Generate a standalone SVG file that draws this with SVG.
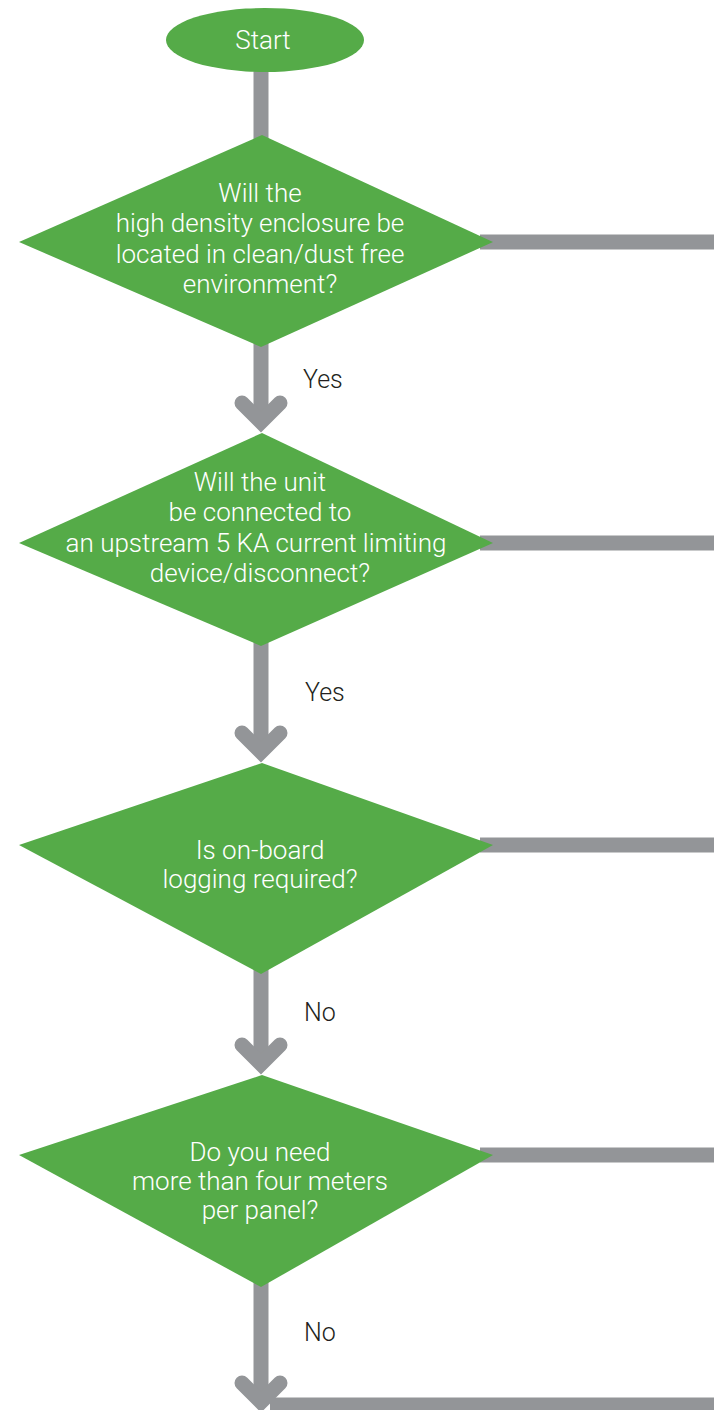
<svg xmlns="http://www.w3.org/2000/svg" width="714" height="1410" viewBox="0 0 714 1410">
<style>
.node{fill:#55ab48}
.ln{stroke:#939598;stroke-width:15;fill:none}
.head{stroke:#939598;stroke-width:15;fill:none;stroke-linecap:round;stroke-linejoin:miter}
.t{font-family:Roboto,"Liberation Sans",sans-serif;font-weight:300;font-size:26px;fill:#ffffff;text-anchor:middle}
.lbl{font-family:Roboto,"Liberation Sans",sans-serif;font-weight:300;font-size:25px;fill:#231f20}
</style>
<defs>
<path id="chev" d="M-19,-19 L0,0 L19,-19"/>
</defs>
<rect width="714" height="1410" fill="#ffffff"/>
<g id="connectors">
<line class="ln" x1="261" y1="60" x2="261" y2="150"/>
<line class="ln" x1="261" y1="330" x2="261" y2="420"/>
<line class="ln" x1="261" y1="630" x2="261" y2="750"/>
<line class="ln" x1="261" y1="960" x2="261" y2="1062"/>
<line class="ln" x1="261" y1="1270" x2="261" y2="1400"/>
<use href="#chev" class="head" x="261" y="422"/>
<use href="#chev" class="head" x="261" y="752"/>
<use href="#chev" class="head" x="261" y="1064"/>
<use href="#chev" class="head" x="261" y="1402"/>
<line class="ln" x1="480" y1="242" x2="714" y2="242"/>
<line class="ln" x1="480" y1="543" x2="714" y2="543"/>
<line class="ln" x1="480" y1="845" x2="714" y2="845"/>
<line class="ln" x1="480" y1="1155" x2="714" y2="1155"/>
<line class="ln" x1="270" y1="1405" x2="714" y2="1405"/>
<text class="lbl" x="303" y="388">Yes</text>
<text class="lbl" x="305" y="701">Yes</text>
<text class="lbl" x="304" y="1021">No</text>
<text class="lbl" x="304" y="1341">No</text>
</g>
<g id="start">
<ellipse class="node" cx="265" cy="40" rx="99" ry="32"/>
<text class="t" x="263" y="49">Start</text>
</g>
<g id="q1">
<polygon class="node" points="262,135 493,242 261,347 19,242"/>
<text class="t" x="260" y="202">Will the</text>
<text class="t" x="260" y="232">high density enclosure be</text>
<text class="t" x="260" y="263">located in clean/dust free</text>
<text class="t" x="260" y="293">environment?</text>
</g>
<g id="q2">
<polygon class="node" points="262,433 493,543 261,646 19,543"/>
<text class="t" x="260" y="491">Will the unit</text>
<text class="t" x="260" y="521">be connected to</text>
<text class="t" x="256" y="552">an upstream 5 KA current limiting</text>
<text class="t" x="260" y="582">device/disconnect?</text>
</g>
<g id="q3">
<polygon class="node" points="262,763 493,845 261,974 19,845"/>
<text class="t" x="260" y="859">Is on-board</text>
<text class="t" x="260" y="888">logging required?</text>
</g>
<g id="q4">
<polygon class="node" points="262,1075 493,1155 261,1287 19,1155"/>
<text class="t" x="260" y="1161">Do you need</text>
<text class="t" x="260" y="1190">more than four meters</text>
<text class="t" x="260" y="1219">per panel?</text>
</g>
</svg>
